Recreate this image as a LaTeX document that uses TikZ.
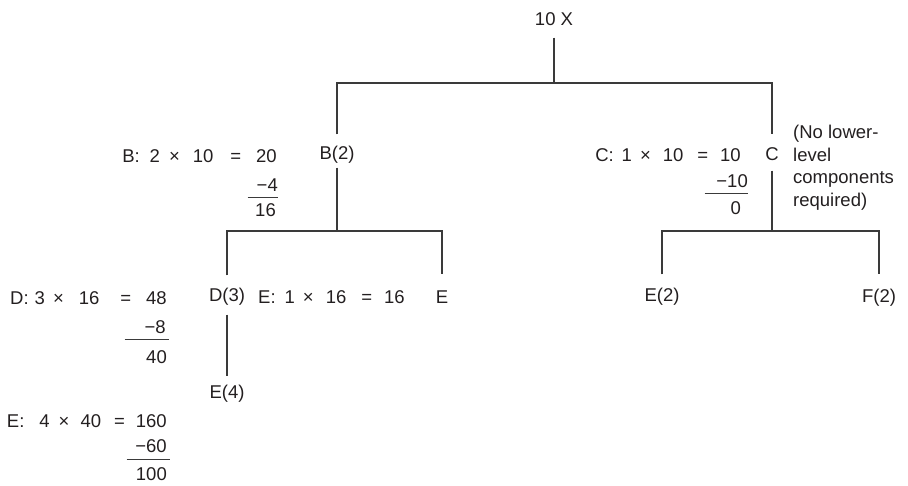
\documentclass[tikz,border=0pt]{standalone}
\usepackage{fontspec}
\setmainfont{Liberation Sans}
\usetikzlibrary{positioning}
\definecolor{inkGray}{HTML}{231F20}
\definecolor{lineGray}{HTML}{3A3A3A}
\tikzset{
  part/.style    = {inner sep=0pt, text height=13pt, text depth=4pt,
                    font=\fontsize{18.5}{22}\selectfont, text=inkGray},
  calc/.style    = {part, anchor=east},
  less/.style    = {calc, align=right},
  link/.style    = {draw=lineGray, line width=1.2pt},
  sumline/.style = {draw=lineGray, line width=1.2pt},
  note/.style    = {inner sep=0pt, anchor=north west, align=left,
                    font=\fontsize{18.5}{22.5}\selectfont, text=inkGray}
}

\begin{document}
\begin{tikzpicture}[x=1pt, y=-1pt]
\useasboundingbox (0,0) rectangle (908,486);

% tree
\node[part] (x10) at (554,21) {10 X};
\coordinate (j1) at (554,83);
\node[part] (b2) at (337,155) {B(2)};
\node[part] (c)  at (772,156) {C};
\coordinate (j2) at (337,231);
\coordinate (j3) at (772,231);
\node[part] (d3) at (227,297) {D(3)};
\node[part] (e1) at (442,299) {E};
\node[part] (e4) at (227,394) {E(4)};
\node[part] (e2) at (662,297) {E(2)};
\node[part] (f2) at (879,298) {F(2)};

\draw[link] ([yshift=-8pt]x10.south) -- (j1);
\draw[link] ([yshift=12pt]b2.north) |- (j1) -| ([yshift=13pt]c.north);
\draw[link] ([yshift=-4pt]b2.south) -- (j2);
\draw[link] ([yshift=13pt]d3.north) |- (j2) -| ([yshift=16pt]e1.north);
\draw[link] ([yshift=-9pt]d3.south) -- ([yshift=9pt]e4.north);
\draw[link] ([yshift=-6pt]c.south) -- (j3);
\draw[link] ([yshift=14pt]e2.north) |- (j3) -| ([yshift=15pt]f2.north);

% requirements
\node[calc] (bcalc) at (277,158)
  {B:\hspace{10pt}2\hspace{9pt}\texttimes\hspace{13pt}10\hspace{17pt}=\hspace{15pt}20};
\node[less, text width=30pt] (bless) at (278,187) {\char"2212 4};
\node[calc] (bnet) at (276,212) {16};
\draw[sumline] ([yshift=-2pt]bless.south west) -- ([yshift=-2pt]bless.south east);

\node[calc] (ccalc) at (741,157)
  {C:\hspace{8pt}1\hspace{8pt}\texttimes\hspace{12pt}10\hspace{14pt}=\hspace{12pt}10};
\node[less, text width=43pt] (cless) at (748,183) {\char"2212 10\ };
\node[calc] (cnet) at (741,210) {0};
\draw[sumline] ([yshift=-2pt]cless.south west) -- ([yshift=-2pt]cless.south east);

\node[calc] (dcalc) at (167,300)
  {D:\hspace{6pt}3\hspace{8pt}\texttimes\hspace{15pt}16\hspace{21pt}=\hspace{15pt}48};
\node[less, text width=44pt] (dless) at (169,329) {\char"2212 8\,};
\node[calc] (dnet) at (167,359) {40};
\draw[sumline] ([yshift=-2pt]dless.south west) -- ([yshift=-2pt]dless.south east);

\node[part, anchor=west] (ecalc) at (258,299)
  {E:\hspace{9pt}1\hspace{8pt}\texttimes\hspace{12pt}16\hspace{15pt}=\hspace{12pt}16};

\node[calc] (e4calc) at (167,423)
  {E:\hspace{15pt}4\hspace{9pt}\texttimes\hspace{11pt}40\hspace{13pt}=\hspace{11pt}160};
\node[less, text width=43pt] (e4less) at (170,448) {\char"2212 60\,};
\node[calc] (e4net) at (167,476) {100};
\draw[sumline] ([yshift=-3pt]e4less.south west) -- ([yshift=-3pt]e4less.south east);

\node[note] (cnote) at (793,125) {(No lower-\\level\\components\\required)};
\end{tikzpicture}
\end{document}
